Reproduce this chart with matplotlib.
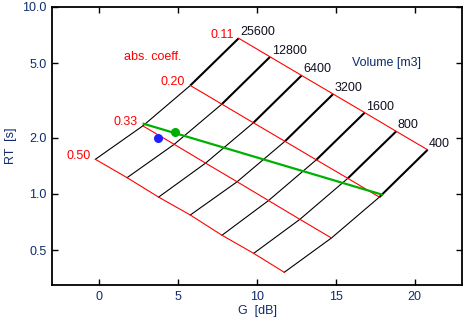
import numpy as np
import matplotlib
matplotlib.use('Agg')
import matplotlib.pyplot as plt

plt.rcParams['font.family'] = ['Liberation Sans', 'DejaVu Sans']

# volumes along each constant-absorption line, largest first
volumes = ['25600', '12800', '6400', '3200', '1600', '800', '400']
alphas = ['0.50', '0.33', '0.20', '0.11']

# G [dB] and RT [s] for each absorption coefficient, one value per volume
G_050 = [-0.25, 1.76, 3.76, 5.77, 7.78, 9.79, 11.73]
RT_050 = [1.53, 1.22, 0.96, 0.77, 0.60, 0.48, 0.38]
G_033 = [2.76, 4.75, 6.74, 8.74, 10.73, 12.72, 14.72]
RT_033 = [2.31, 1.84, 1.46, 1.16, 0.92, 0.73, 0.58]
G_020 = [5.77, 7.77, 9.77, 11.77, 13.76, 15.76, 17.76]
RT_020 = [3.80, 3.02, 2.40, 1.91, 1.52, 1.21, 0.96]
G_011 = [8.84, 10.83, 12.83, 14.83, 16.83, 18.83, 20.82]
RT_011 = [6.80, 5.41, 4.30, 3.42, 2.72, 2.16, 1.72]

# measured trace and points
trace_G = [2.81, 17.93]
trace_RT = [2.37, 0.99]
pt_green = (4.82, 2.15)
pt_blue = (3.70, 1.99)

G_all = np.array([G_050, G_033, G_020, G_011])
RT_all = np.array([RT_050, RT_033, RT_020, RT_011])

txtcol = '#0f2d6e'
px = 0.72  # one pixel in points at 100 dpi
W, H = 472, 325

fig = plt.figure(figsize=(4.72, 3.25), dpi=100)
ax = fig.add_axes([0.1102, 0.1231, 0.8686, 0.8554])
ax.set_yscale('log')

# constant-volume lines (black), upper segment drawn heavier
for j in range(len(volumes)):
    ax.plot(G_all[:3, j], RT_all[:3, j], color='black', lw=0.8, zorder=2)
    ax.plot(G_all[2:, j], RT_all[2:, j], color='black', lw=1.5, zorder=2,
            solid_capstyle='butt')
    ax.annotate(volumes[j], (G_all[3, j], RT_all[3, j]), xytext=(1.5 * px, 6 * px),
                textcoords='offset points', ha='left', va='center',
                fontsize=9, color='#101020')

# constant-absorption lines (red)
for i in range(len(alphas)):
    ax.plot(G_all[i], RT_all[i], color='#ff0000', lw=0.8, zorder=3)
    ax.annotate(alphas[i], (G_all[i, 0], RT_all[i, 0]), xytext=(-5 * px, 3.5 * px),
                textcoords='offset points', ha='right', va='center',
                fontsize=9, color='#ff0000')

ax.plot(trace_G, trace_RT, color='#00b000', lw=1.6, zorder=4)
ax.plot(*pt_green, 'o', color='#00b000', ms=5.5, zorder=5)
ax.plot(*pt_blue, 'o', color='#2020ff', ms=5.5, zorder=5)

fig.text(153 / W, 1 - 57 / H, 'abs. coeff.', fontsize=9, color='#ff0000',
         ha='center', va='center')
fig.text(387 / W, 1 - 63 / H, 'Volume [m3]', fontsize=9, color=txtcol,
         ha='center', va='center')

ax.set_xlim(-3, 23)
ax.set_ylim(0.325, 10)
ax.set_xticks([0, 5, 10, 15, 20])
ax.set_xticklabels(['0', '5', '10', '15', '20'])
ax.set_yticks([0.5, 1, 2, 5, 10])
ax.set_yticklabels(['0.5', '1.0', '2.0', '5.0', '10.0'])
ax.minorticks_off()
ax.tick_params(direction='in', length=4, width=1, top=True, right=True,
               labelsize=9, labelcolor=txtcol, pad=4)
for s in ax.spines.values():
    s.set_linewidth(1.3)

ax.set_xlabel('G  [dB]', fontsize=9, color=txtcol, labelpad=2)
ax.set_ylabel('RT  [s]', fontsize=9, color=txtcol, labelpad=4)

fig.savefig('out.png', dpi=100)
